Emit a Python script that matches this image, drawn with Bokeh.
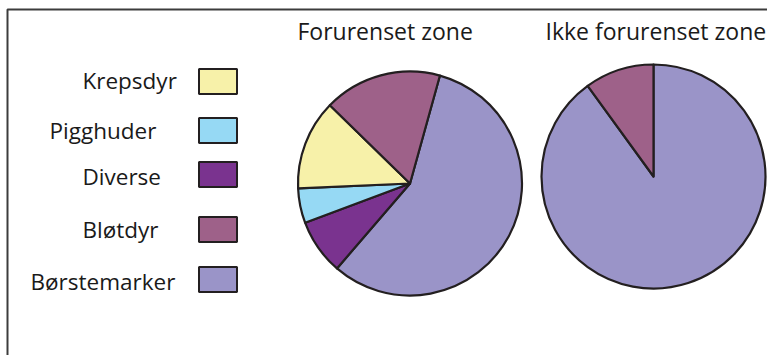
import numpy as np
from bokeh.plotting import figure
from bokeh.models import Range1d, ColumnDataSource
from bokeh.core.properties import value
from bokeh.embed import file_html
from bokeh.resources import INLINE

# ---- data ----
categories = ["Krepsdyr", "Pigghuder", "Diverse", "Bløtdyr", "Børstemarker"]
colors = ["#F7F1A9", "#96D9F4", "#7A338F", "#9E6189", "#9A94C8"]
titles = ["Forurenset zone", "Ikke forurenset zone"]
# slice order (clockwise) as drawn in each pie
pie1_order = ["Børstemarker", "Diverse", "Pigghuder", "Krepsdyr", "Bløtdyr"]
pie1_values = [57, 8, 5, 13, 17]
pie2_order = ["Børstemarker", "Bløtdyr"]
pie2_values = [90, 10]

W, H = 767, 355
FONT = "Open Sans"
OUT = "#231F20"

p = figure(width=W, height=H, output_backend="svg", toolbar_location=None,
           x_range=Range1d(0, W), y_range=Range1d(0, H), min_border=0)
p.axis.visible = False
p.grid.visible = False
p.outline_line_color = None

def Y(py):
    return H - py

# frame (top + left visible)
p.quad(left=7, right=W + 50, top=Y(9), bottom=-50, fill_alpha=0,
       line_color="#3C3C3C", line_width=2)

cmap = dict(zip(categories, colors))

def pie(cx, cy, r, order, vals, start_deg):
    vals = np.asarray(vals, dtype=float)
    frac = vals / vals.sum() * 360.0
    ends = start_deg + np.cumsum(frac)
    starts = ends - frac
    src = ColumnDataSource(dict(
        start=np.deg2rad(90 - starts), end=np.deg2rad(90 - ends),
        color=[cmap[c] for c in order]))
    p.wedge(x=cx, y=Y(cy), radius=r, start_angle="start", end_angle="end",
            direction="clock", fill_color="color", line_color=OUT,
            line_width=2.2, line_join="round", source=src)

pie(409.5, 183, 112, pie1_order, pie1_values, 15.5)
pie(653, 176, 112, pie2_order, pie2_values, 0.0)

# titles
p.text(x=[297, 545], y=[Y(30), Y(30)], text=titles, text_align="left",
       text_baseline="middle", text_font=value(FONT), text_font_size="23px",
       text_color="#1a1a1a")

# legend
leg_y = [81, 130, 174, 229, 279]
leg_text_x = [82, 49, 82, 82, 30]
leg_text_y = [80, 129.5, 175.5, 229, 280.5]
p.rect(x=[217.5] * 5, y=[Y(v) for v in leg_y], width=38, height=25,
       fill_color=colors, line_color=OUT, line_width=2)
p.text(x=leg_text_x, y=[Y(v) for v in leg_text_y], text=categories,
       text_align="left", text_baseline="middle", text_font=value(FONT),
       text_font_size="22.5px", text_color="#1a1a1a")

open("out.html", "w").write(file_html(p, INLINE))
